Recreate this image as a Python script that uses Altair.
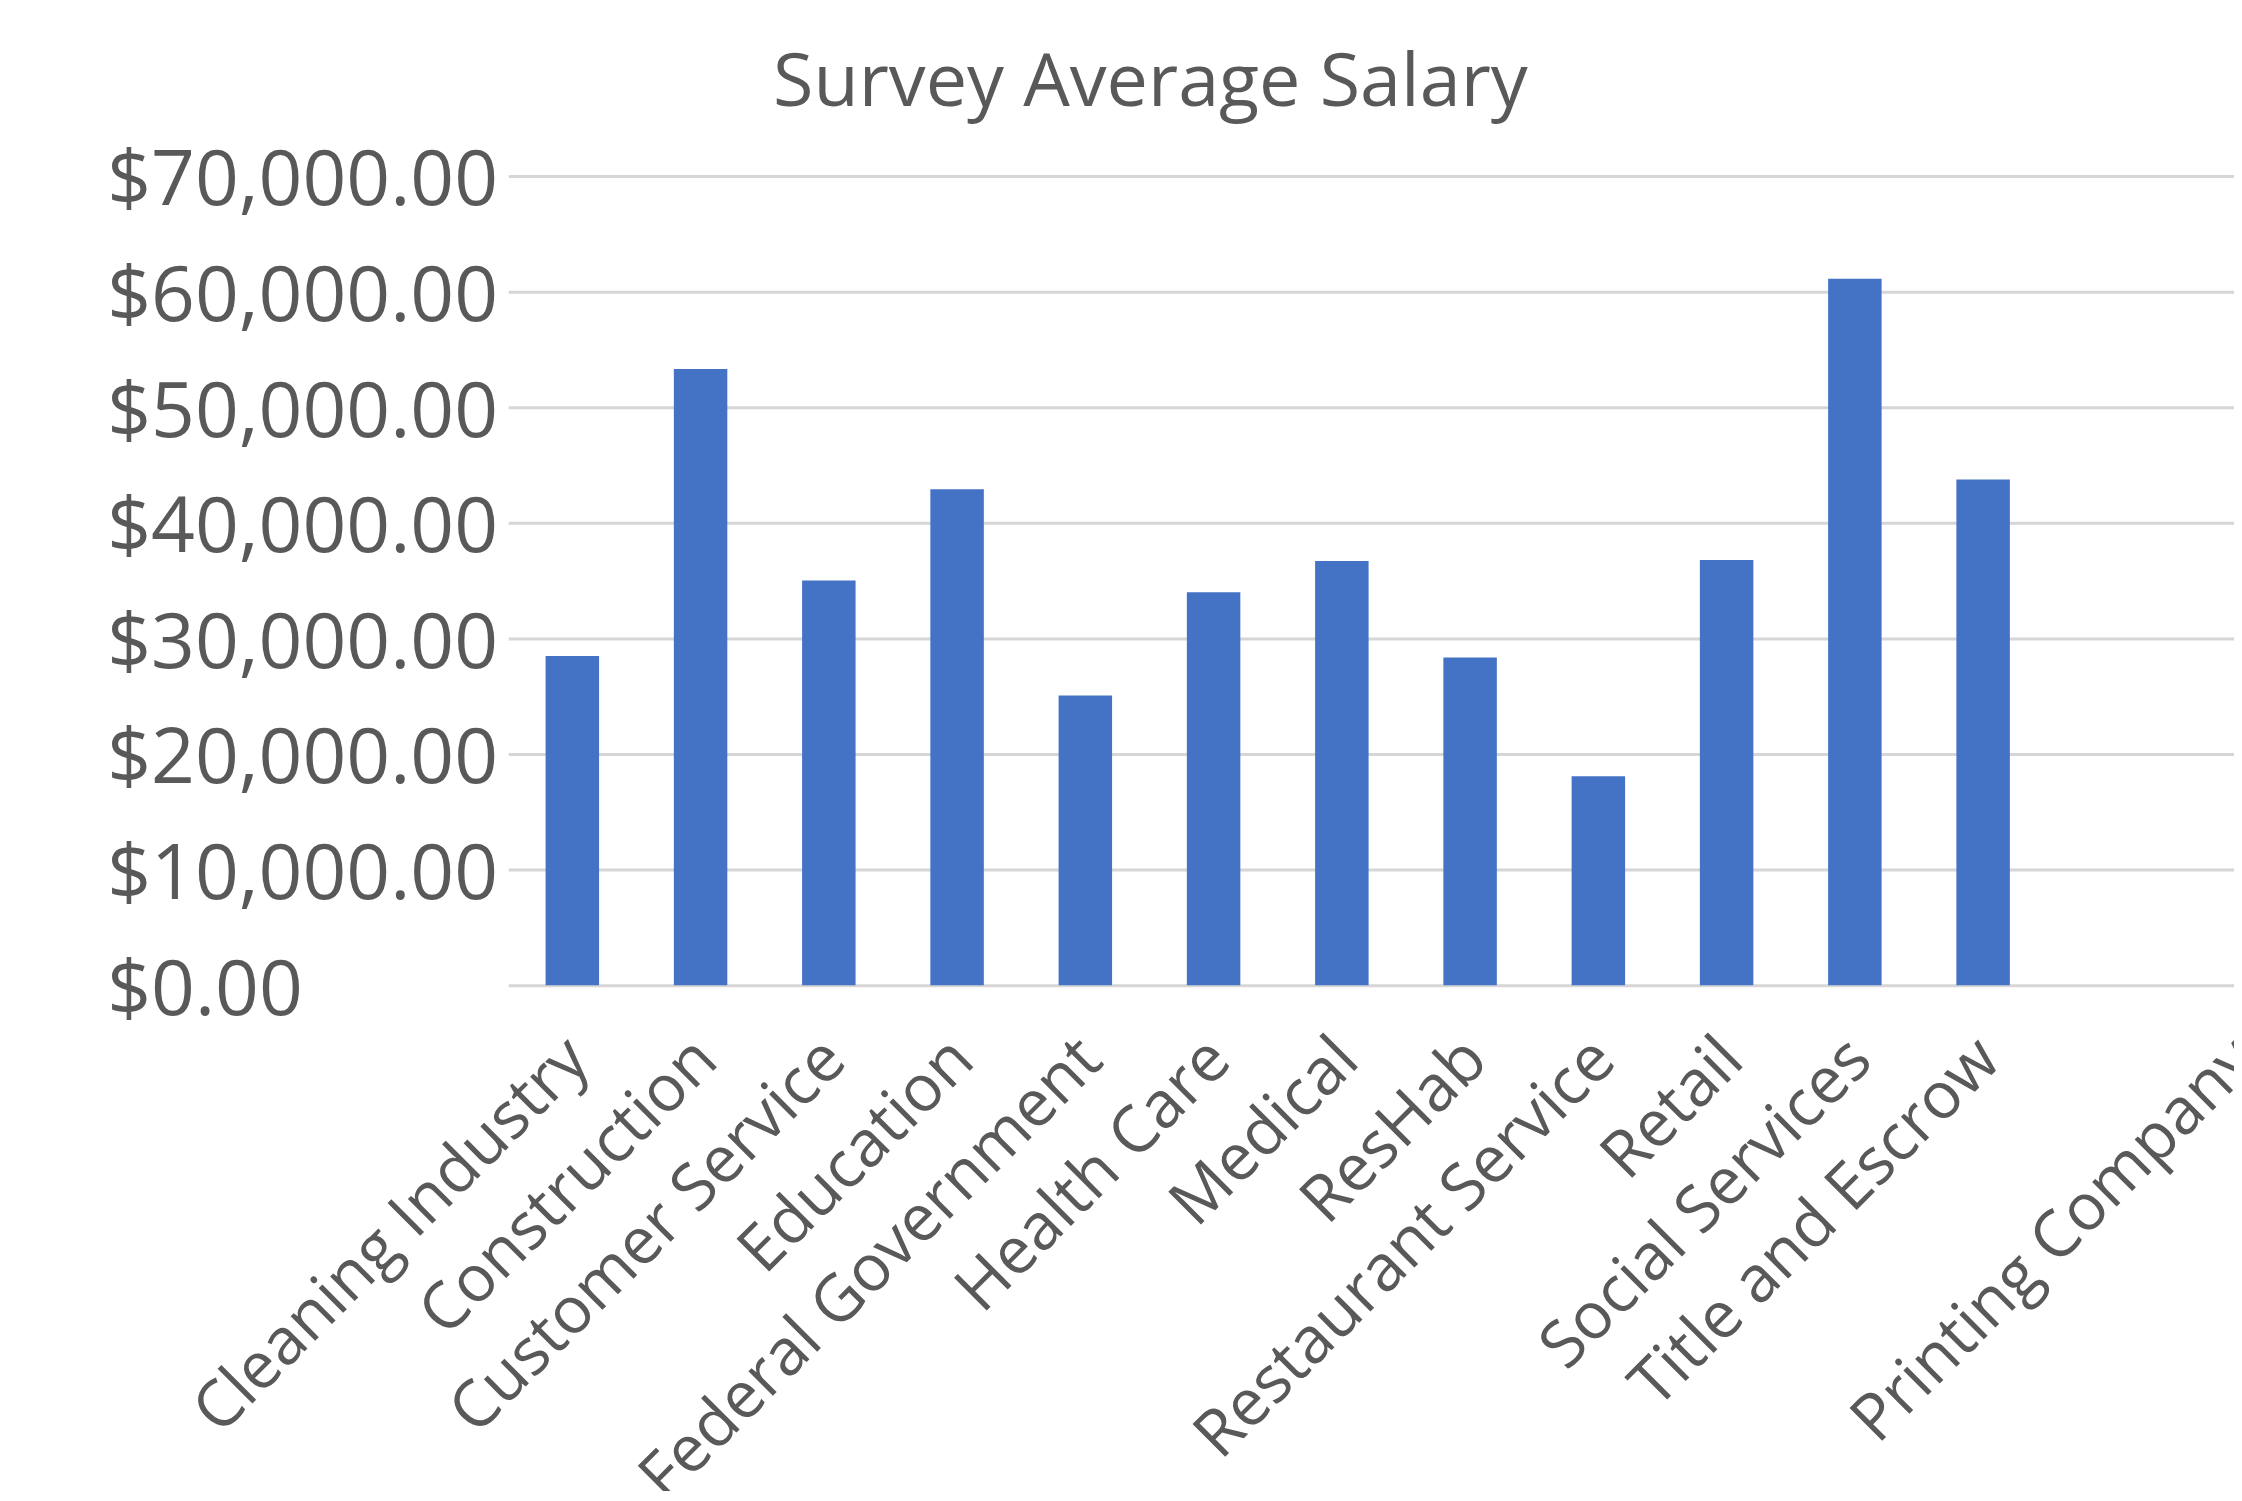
import altair as alt
import pandas as pd

categories = ["Cleaning Industry", "Construction", "Customer Service", "Education",
              "Federal Government", "Health Care", "Medical", "ResHab",
              "Restaurant Service", "Retail", "Social Services", "Title and Escrow",
              " ", "Printing Company"]
salaries = [28480, 53310, 35010, 42900, 25070, 33990, 36700, 28340,
            18070, 36790, 61110, 43740, None, None]
y_ticks = [0, 10000, 20000, 30000, 40000, 50000, 60000, 70000]

df = pd.DataFrame({"category": categories, "salary": salaries})

FONT = "Open Sans"
GREY = "#595959"

chart = alt.Chart(df).mark_bar(color="#4472C4").encode(
    x=alt.X("category:N", sort=categories,
            scale=alt.Scale(domain=categories, range=[0, 1802],
                            paddingInner=0.583, paddingOuter=0.2915),
            axis=alt.Axis(title=None, labelAngle=-45, labelAlign="right",
                          labelBaseline="middle", ticks=False, domain=False,
                          labelPadding=64, labelOffset=6, labelFontSize=65,
                          labelFont=FONT, labelColor=GREY, labelLimit=2000,
                          labelOverlap=False, grid=False)),
    y=alt.Y("salary:Q",
            scale=alt.Scale(domain=[0, 70000], nice=False),
            axis=alt.Axis(title=None, values=y_ticks, format="$,.2f",
                          ticks=False, domain=False, labelAlign="left",
                          labelPadding=403, labelOffset=6,
                          labelFontSize=77, labelFont=FONT, labelColor=GREY,
                          labelLimit=2000, gridColor="#d6d6d6", gridWidth=3)),
).properties(
    width=1732,
    height=812,
    title=alt.TitleParams("Survey Average Salary", font=FONT, fontSize=74,
                          fontWeight="normal", color=GREY, anchor="middle",
                          frame="bounds", offset=21, dx=-55),
    autosize=alt.AutoSizeParams(type="none"),
    padding={"left": 502, "top": 166, "right": 0, "bottom": 505},
).configure_view(stroke=None)

chart.save("out.html", embed_options={"renderer": "svg", "actions": False})
